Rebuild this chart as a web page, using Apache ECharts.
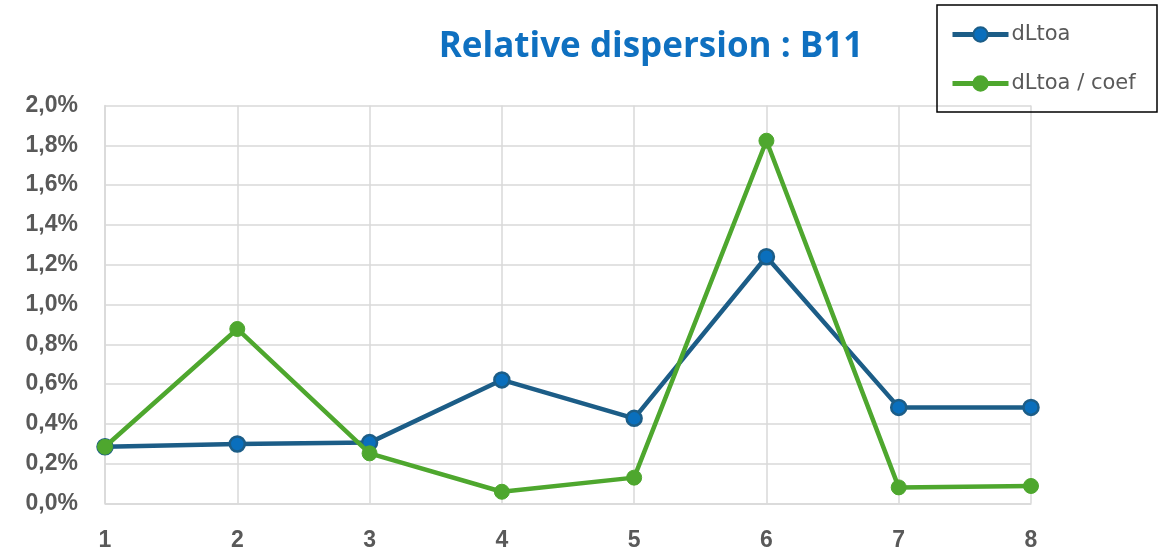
<!DOCTYPE html>
<html>
<head>
<meta charset="utf-8">
<script src="https://cdn.jsdelivr.net/npm/echarts@6/dist/echarts.min.js"></script>
<style>
  html, body { margin: 0; padding: 0; background: #fff; }
  #chart { width: 1168px; height: 556px; }
</style>
</head>
<body>
<div id="chart"></div>
<script>
// Categories and values (in percent)
const categories = ['1', '2', '3', '4', '5', '6', '7', '8'];
const dLtoa = [0.285, 0.299, 0.306, 0.621, 0.428, 1.240, 0.483, 0.483];
const dLtoaCoef = [0.285, 0.877, 0.252, 0.059, 0.130, 1.823, 0.081, 0.088];
const yTicks = { min: 0, max: 2.0, interval: 0.2 };

const chart = echarts.init(document.getElementById('chart'));

const pct = v => v.toFixed(1).replace('.', ',') + '%';

chart.setOption({
  animation: false,
  backgroundColor: '#ffffff',
  title: {
    text: 'Relative dispersion : B11',
    left: 646,
    textAlign: 'center',
    top: 25,
    textStyle: {
      fontFamily: 'Open Sans',
      fontWeight: 'bold',
      fontSize: 35,
      color: '#0f70c0'
    }
  },
  // frame around the legend
  graphic: [{
    type: 'rect',
    shape: { x: 937, y: 5, width: 220, height: 107 },
    style: { fill: 'none', stroke: '#000000', lineWidth: 1.5 },
    z: 10
  }],
  legend: {
    orient: 'vertical',
    left: 950,
    top: 24,
    padding: 0,
    itemGap: 28,
    itemWidth: 56,
    itemHeight: 18,
    lineStyle: { width: 5 },
    textStyle: {
      fontFamily: 'DejaVu Sans',
      fontSize: 21,
      color: '#595959',
      padding: [0, 0, 0, -2]
    },
    data: ['dLtoa', 'dLtoa / coef']
  },
  grid: {
    left: 105,
    right: 137,
    top: 105.5,
    bottom: 52.5,
    containLabel: false
  },
  xAxis: {
    type: 'category',
    data: categories,
    boundaryGap: false,
    axisLine: { show: true, lineStyle: { color: '#d9d9d9', width: 1.5 } },
    axisTick: { show: false },
    splitLine: { show: true, lineStyle: { color: '#d9d9d9', width: 1.5 } },
    axisLabel: {
      margin: 26,
      fontFamily: 'Liberation Sans',
      fontWeight: 'bold',
      fontSize: 23,
      color: '#595959'
    }
  },
  yAxis: {
    type: 'value',
    min: yTicks.min,
    max: yTicks.max,
    interval: yTicks.interval,
    axisLine: { show: true, lineStyle: { color: '#d9d9d9', width: 1.5 } },
    axisTick: { show: false },
    splitLine: { show: true, lineStyle: { color: '#d9d9d9', width: 1.5 } },
    axisLabel: {
      margin: 27,
      formatter: pct,
      fontFamily: 'Liberation Sans',
      fontWeight: 'bold',
      fontSize: 23,
      color: '#595959'
    }
  },
  series: [
    {
      name: 'dLtoa',
      type: 'line',
      data: dLtoa,
      symbol: 'circle',
      symbolSize: 15,
      lineStyle: { color: '#1c5d87', width: 4.5 },
      itemStyle: { color: '#0a6fbd', borderColor: '#1c5d87', borderWidth: 2.5 },
      z: 2
    },
    {
      name: 'dLtoa / coef',
      type: 'line',
      data: dLtoaCoef,
      symbol: 'circle',
      symbolSize: 15,
      lineStyle: { color: '#4ea72e', width: 4.5 },
      itemStyle: { color: '#4ea72e', borderColor: '#4ea72e', borderWidth: 1 },
      z: 3
    }
  ]
});
</script>
</body>
</html>
